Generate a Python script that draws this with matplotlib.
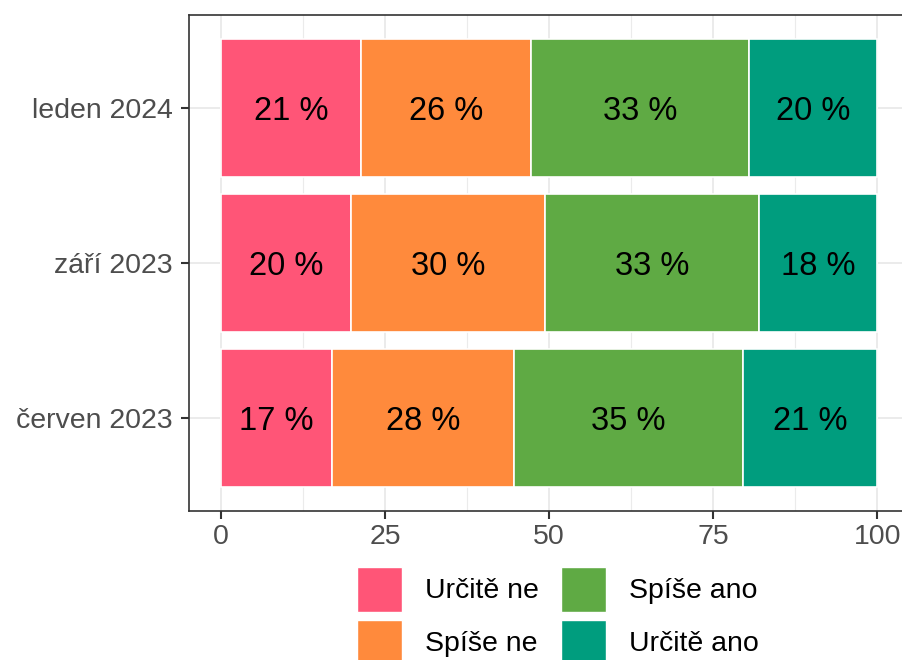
import numpy as np
import matplotlib.pyplot as plt
from matplotlib.patches import Patch

plt.rcParams['font.family'] = ['Liberation Sans', 'DejaVu Sans']

# Data (percent of respondents)
periods = ['červen 2023', 'září 2023', 'leden 2024']
answers = ['Určitě ne', 'Spíše ne', 'Spíše ano', 'Určitě ano']
colors = ['#FF5577', '#FF8A3C', '#5FAA44', '#009D7E']

urcite_ne = [16.9, 19.8, 21.3]
spise_ne = [27.8, 29.5, 25.9]
spise_ano = [34.8, 32.7, 33.3]
urcite_ano = [20.5, 18.0, 19.5]

series = [urcite_ne, spise_ne, spise_ano, urcite_ano]

fig = plt.figure(figsize=(9.02, 6.6), dpi=100)
ax = fig.add_axes([188.5 / 902, 149 / 660, (910 - 188.5) / 902, (645 - 149) / 660])

y = np.arange(len(periods))
left = np.zeros(len(periods))
for vals, col in zip(series, colors):
    vals = np.array(vals)
    ax.barh(y, vals, left=left, height=0.885, color=col, edgecolor='white', linewidth=1.2, zorder=3)
    for yi, l, v in zip(y, left, vals):
        ax.text(l + v / 2, yi, f"{int(v + 0.5)} %", ha='center', va='center_baseline',
                fontsize=23.5, color='black', zorder=4)
    left += vals

ax.set_xlim(-5, 105)
ax.set_ylim(-0.6, 2.6)
ax.set_xticks([0, 25, 50, 75, 100])
ax.set_xticks([12.5, 37.5, 62.5, 87.5], minor=True)
ax.set_yticks(y)
ax.set_yticklabels(periods)

ax.grid(which='major', color='#EBEBEB', linewidth=1.4, zorder=0)
ax.grid(which='minor', axis='x', color='#EBEBEB', linewidth=0.8, zorder=0)
ax.set_axisbelow(True)

for s in ax.spines.values():
    s.set_color('#333333')
    s.set_linewidth(1.2)

ax.tick_params(axis='both', which='major', labelsize=20.5, labelcolor='#4D4D4D',
               color='#333333', length=6, width=1.5)
ax.tick_params(axis='y', pad=5.5)
ax.tick_params(axis='x', pad=3)
ax.tick_params(which='minor', length=0)

handles = [Patch(facecolor=c, edgecolor='white', linewidth=1) for c in colors]
fig.legend(handles, answers, ncol=2, loc='upper left', bbox_to_anchor=(357 / 902, 93 / 660),
           frameon=False, fontsize=20.5, handlelength=1.58, handleheight=2.05,
           labelspacing=0.28, handletextpad=0.8, columnspacing=0.8, borderpad=0,
           borderaxespad=0)

fig.savefig('out.png', dpi=100)
